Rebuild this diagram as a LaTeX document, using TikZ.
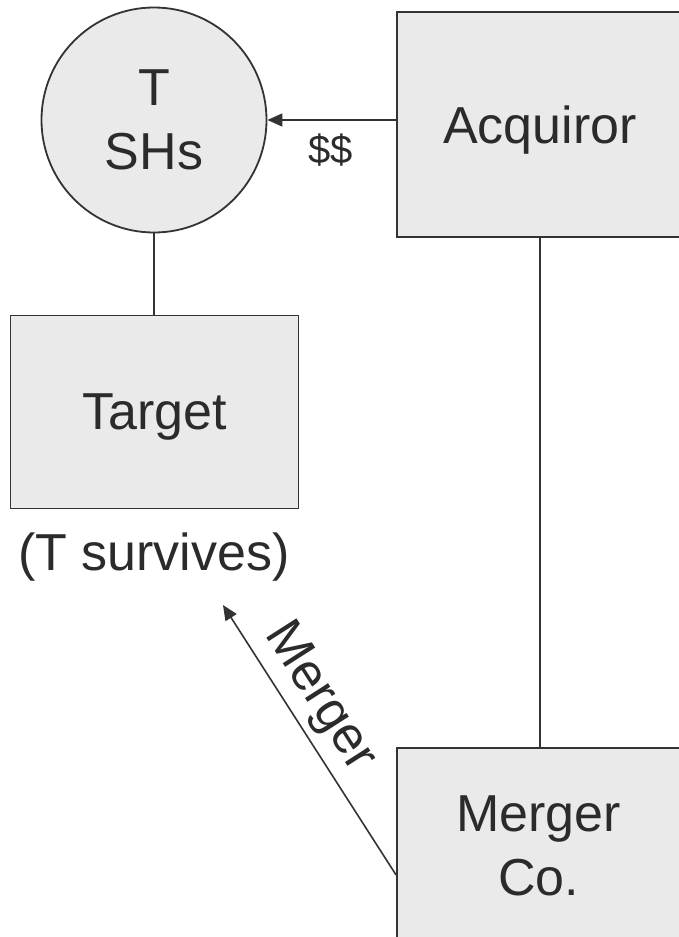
\documentclass[tikz,border=0pt]{standalone}
\usepackage{fontspec}
\setmainfont{Liberation Sans}
\usetikzlibrary{arrows.meta}
\definecolor{boxfill}{HTML}{EAEAEA}
\definecolor{inkline}{HTML}{333333}
\definecolor{inktext}{HTML}{2B2B2B}
\begin{document}
\begin{tikzpicture}[x=1pt,y=-1pt,
  every node/.style={text=inktext, font=\fontsize{52}{64}\selectfont},
  entity/.style={draw=inkline, fill=boxfill, line width=1.8pt, inner sep=0pt,
                 align=center},
  holders/.style={entity, circle, minimum size=225pt},
  company/.style={entity, rectangle},
  link/.style={draw=inkline, line width=1.6pt},
  flow/.style={link, -{Triangle[length=15pt,width=13pt]}}
]
\useasboundingbox (0,0) rectangle (679,937);
\clip (0,0) rectangle (679,937);

% parties
\node[holders] (tsh) at (154,120) {T\\SHs};
\node[company, minimum width=286pt, minimum height=225pt, text depth=0pt]
  (acq) at (540,124.5) {Acquiror};
\node[company, minimum width=288pt, minimum height=193pt, text depth=0pt]
  (tgt) at (154.5,412) {Target};
\node[company, minimum width=283pt, minimum height=195pt]
  (mco) at (538.5,845.5) {Merger\\Co.};
\node[anchor=base] (surv) at (154,570) {(T survives)};

% ownership lines
\draw[link] (tsh.south) -- (tsh.south |- tgt.north);
\draw[link] (acq.south) -- (acq.south |- mco.north);

% cash paid to target shareholders
\draw[flow] (acq.west |- tsh.east) -- (tsh.east);
\node[font=\fontsize{40}{48}\selectfont] (cash) at (331,150) {\$\$};

% merger of the sub into the target
\coordinate (mfoot) at ([yshift=-29.5pt]mco.west);
\coordinate (mtip) at (223,605);
\draw[flow] (mfoot) -- (mtip)
  node[pos=0.595, sloped, above=7pt, inner sep=0pt] (mlab) {Merger};
\end{tikzpicture}
\end{document}
